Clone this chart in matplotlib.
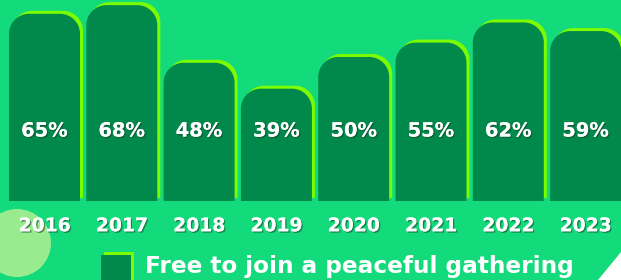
import numpy as np
import matplotlib
matplotlib.use('Agg')
from matplotlib import pyplot as plt
from matplotlib.path import Path
from matplotlib.patches import PathPatch, Rectangle, Circle, Polygon
from matplotlib import transforms
import matplotlib.patheffects as pe

years = ['2016', '2017', '2018', '2019', '2020', '2021', '2022', '2023']
values = [65, 68, 48, 39, 50, 55, 62, 59]
legend_label = 'Free to join a peaceful gathering'

bg = '#13DB7B'
bar_col = '#00894A'
lime = '#7CFC00'

plt.rcParams['font.family'] = ['DejaVu Sans']

fig = plt.figure(figsize=(6.21, 2.8), dpi=100, facecolor=bg)
# axes: bottom of bars at 201px from top, bar step 77.3px
ax = fig.add_axes([0, 79 / 280, 1, 201 / 280])
ax.set_zorder(1)
ax.set_facecolor('none')
step = 77.3
ax.set_xlim(-44.5 / step, (621 - 44.5) / step)
ax.set_ylim(0, 201 / 2.88)
for s in ax.spines.values():
    s.set_visible(False)
ax.set_yticks([])

bw = 71 / step
rx = 20 / step
ry = 20 / 2.88


def rounded_bar(xc, h):
    x0, x1 = xc - bw / 2, xc + bw / 2
    k = 0.5523
    verts = [(x0, 0), (x0, h - ry),
             (x0, h - ry + k * ry), (x0 + rx - k * rx, h), (x0 + rx, h),
             (x1 - rx, h),
             (x1 - rx + k * rx, h), (x1, h - ry + k * ry), (x1, h - ry),
             (x1, 0), (x0, 0)]
    codes = [Path.MOVETO, Path.LINETO,
             Path.CURVE4, Path.CURVE4, Path.CURVE4,
             Path.LINETO,
             Path.CURVE4, Path.CURVE4, Path.CURVE4,
             Path.LINETO, Path.CLOSEPOLY]
    return Path(verts, codes)


shadow = [pe.withSimplePatchShadow(offset=(1, -1), shadow_rgbFace='#1a4a30', alpha=0.6), pe.Normal()]

shift = transforms.ScaledTranslation(3 / 100, 3 / 100, fig.dpi_scale_trans)
xs = np.arange(len(years))
for x, v in zip(xs, values):
    p = rounded_bar(x, v)
    ax.add_patch(PathPatch(p, facecolor=lime, edgecolor='none',
                           transform=ax.transData + shift, zorder=2))
    ax.add_patch(PathPatch(p, facecolor=bar_col, edgecolor='none', zorder=3))
    ax.text(x, 70 / 2.88, f'{v}%', ha='center', va='center', color='white',
            fontsize=14, fontweight='bold', zorder=5, path_effects=shadow)

ax.set_xticks(xs, years)
ax.tick_params(axis='x', length=0, pad=11, labelsize=13.5, labelcolor='white')
for lab in ax.get_xticklabels():
    lab.set_fontweight('bold')
    lab.set_path_effects(shadow)

# decorations in pixel coordinates
ident = transforms.IdentityTransform()
fig.patches.append(Circle((17, 37), 34, facecolor='#98EC8E', edgecolor='none',
                          transform=ident, zorder=-1))
fig.patches.append(Polygon([(598, 0), (621, 28), (621, 0)], closed=True, facecolor='white',
                           edgecolor='none', transform=ident, zorder=-1))

# legend swatch
fig.patches.append(Rectangle((104, 0), 30, 28, facecolor=lime, edgecolor='none', transform=ident, zorder=2))
fig.patches.append(Rectangle((101, 0), 30, 25, facecolor=bar_col, edgecolor='none', transform=ident, zorder=3))
fig.text(145 / 621, 14 / 280, legend_label, ha='left', va='center', color='white',
         fontsize=16.7, fontweight='bold', zorder=4)

fig.savefig('out.png', dpi=100, facecolor=bg)
